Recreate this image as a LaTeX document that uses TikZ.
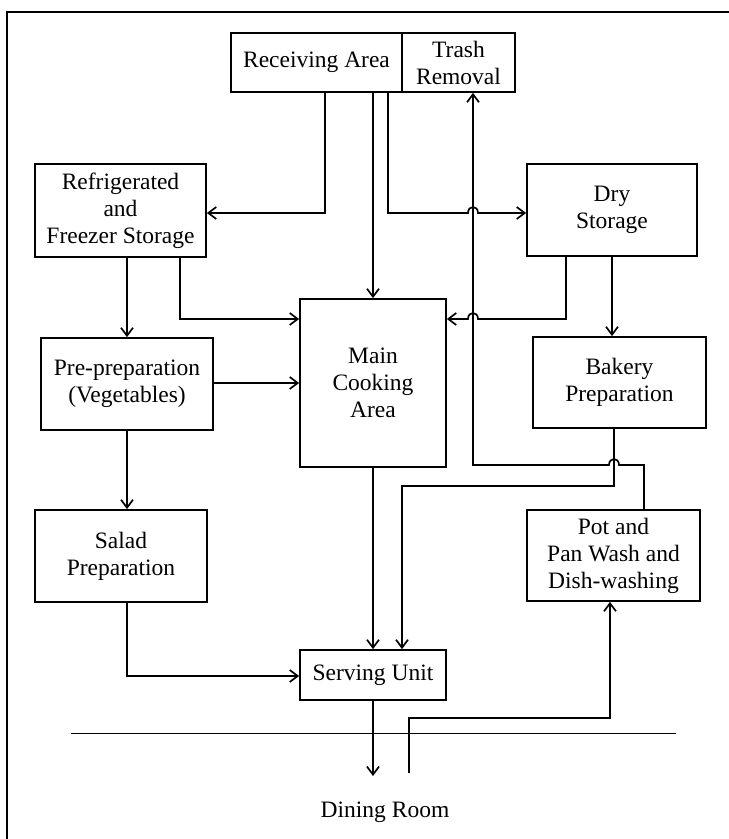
\documentclass[tikz,border=0pt]{standalone}
\usepackage{fontspec}
\setmainfont{Liberation Serif}
\usetikzlibrary{arrows.meta}
\begin{document}
\begin{tikzpicture}[x=1pt,y=-1pt,
  box/.style={draw,line width=1.7pt,inner sep=0pt,align=center,
    font=\fontsize{23.5}{27}\selectfont},
  conn/.style={line width=1.7pt},
  arr/.style={conn,-{Straight Barb[length=8pt,width=12pt,line width=1.7pt]}},
  lbl/.style={font=\fontsize{23.5}{27}\selectfont,inner sep=0pt}]
\useasboundingbox (0,0) rectangle (729,839);
% frame
\draw[line width=1.5pt] (7,839) -- (7,12) -- (729,12);
% boxes
\node[box,minimum width=171pt,minimum height=59pt] (recv) at (316.5,62.5) {Receiving Area};
\node[box,minimum width=113pt,minimum height=59pt] (trash) at (458.5,62.5) {Trash\\Removal};
\node[box,minimum width=171pt,minimum height=93pt] (refr) at (120.5,210.5) {Refrigerated\\and\\Freezer Storage};
\node[box,minimum width=170pt,minimum height=92pt] (dry) at (612,210) {Dry\\Storage};
\node[box,minimum width=146pt,minimum height=168pt] (main) at (373,383) {Main\\Cooking\\Area};
\node[box,minimum width=172pt,minimum height=92pt] (prep) at (127,384) {Pre-preparation\\(Vegetables)};
\node[box,minimum width=173pt,minimum height=91pt] (bake) at (619.5,382.5) {Bakery\\Preparation};
\node[box,minimum width=172pt,minimum height=92pt] (salad) at (121,556) {Salad\\Preparation};
\node[box,minimum width=173pt,minimum height=91pt] (pot) at (613.5,555.5) {Pot and\\Pan Wash and\\Dish-washing};
\node[box,minimum width=146pt,minimum height=50pt] (serve) at (373,675) {Serving Unit};
\node[lbl] (dining) at (385,812) {Dining Room};
\coordinate (dinout) at (373,776);
\coordinate (dinin) at (409,773);
% separator
\draw[line width=0.8pt] (71,733) -- (676,733);
% connectors
\draw[arr] (325,0 |- recv.south) -- (325,213) -- (refr.east |- 0,213);
\draw[arr] (373,0 |- recv.south) -- (373,0 |- main.north);
\draw[arr] (388,0 |- recv.south) -- (388,213) -- (468,213)
  .. controls (468,205) and (478,205) .. (478,213) -- (dry.west |- 0,213);
\draw[arr] (644,0 |- pot.north) -- (644,465) -- (619,465)
  .. controls (619,457) and (609,457) .. (609,465) -- (473,465) -- (473,0 |- trash.south);
\draw[arr] (127,0 |- refr.south) -- (127,0 |- prep.north);
\draw[arr] (180,0 |- refr.south) -- (180,319) -- (main.west |- 0,319);
\draw[arr] (566,0 |- dry.south) -- (566,319) -- (478,319)
  .. controls (478,311) and (468,311) .. (468,319) -- (main.east |- 0,319);
\draw[arr] (612,0 |- dry.south) -- (612,0 |- bake.north);
\draw[arr] (prep.east |- 0,383) -- (main.west |- 0,383);
\draw[arr] (127,0 |- prep.south) -- (127,0 |- salad.north);
\draw[arr] (373,0 |- main.south) -- (373,0 |- serve.north);
\draw[arr] (614,0 |- bake.south) -- (614,486) -- (402,486) -- (402,0 |- serve.north);
\draw[arr] (127,0 |- salad.south) -- (127,676) -- (serve.west |- 0,676);
\draw[arr] (373,0 |- serve.south) -- (dinout);
\draw[arr] (dinin) -- (409,718) -- (610,718) -- (610,0 |- pot.south);
\end{tikzpicture}
\end{document}
